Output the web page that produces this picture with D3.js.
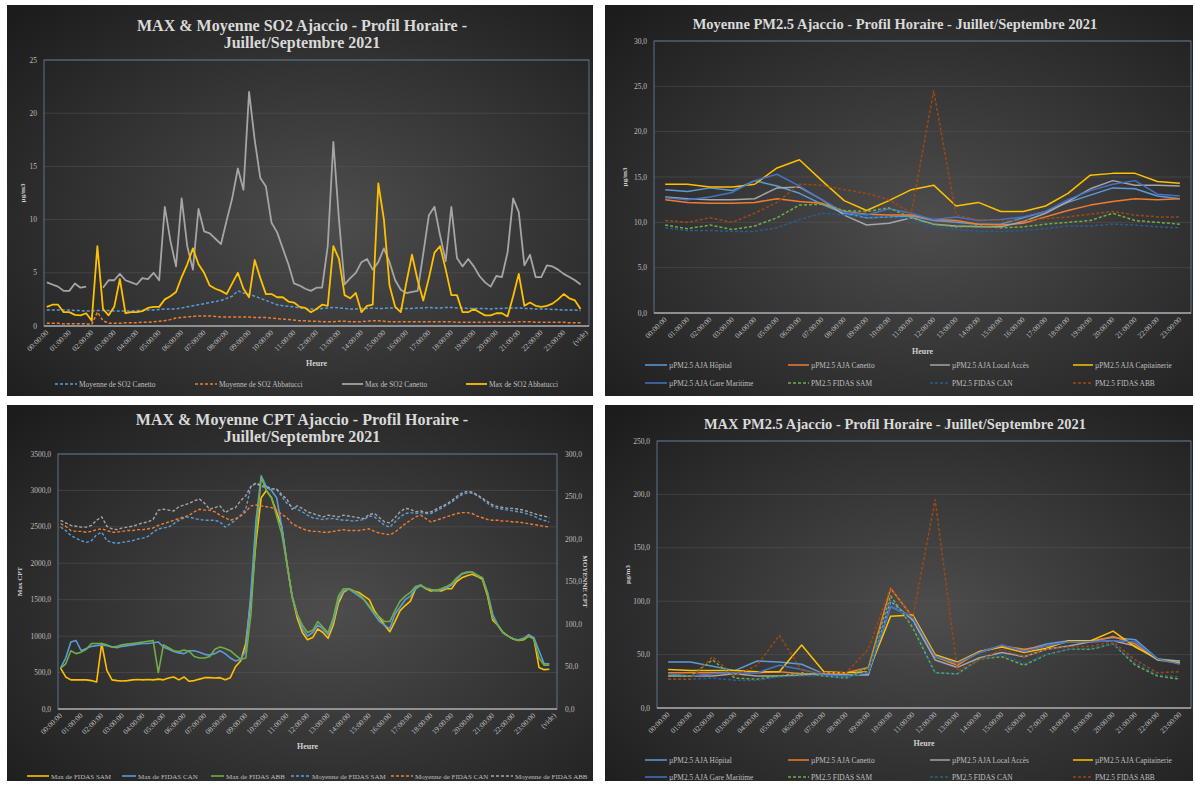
<!DOCTYPE html>
<html>
<head>
<meta charset="utf-8">
<script src="https://cdn.jsdelivr.net/npm/d3@7/dist/d3.min.js"></script>
<style>
  body { margin: 0; background: #fff; }
  svg { display: block; font-family: "Liberation Serif", "DejaVu Serif", serif; }
</style>
</head>
<body>
<svg id="chart" width="1195" height="785"></svg>
<script>
// ---------- data ----------
// quarter-hour charts: 96 points + the "(vide)" category, one label every 4
var hourLabelsVide = ["00:00:00","01:00:00","02:00:00","03:00:00","04:00:00","05:00:00","06:00:00","07:00:00",
  "08:00:00","09:00:00","10:00:00","11:00:00","12:00:00","13:00:00","14:00:00","15:00:00","16:00:00","17:00:00",
  "18:00:00","19:00:00","20:00:00","21:00:00","22:00:00","23:00:00","(vide)"];
var hourLabels = hourLabelsVide.slice(0, 24);

// SO2 (µg/m3)
var so2MoyCanetto = [1.5,1.5,1.5,1.5,1.5,1.45,1.45,1.4,1.4,1.45,1.45,1.45,1.4,1.4,1.4,1.4,1.45,1.45,1.5,1.5,
  1.55,1.6,1.6,1.6,1.7,1.8,1.9,2.0,2.1,2.2,2.3,2.4,2.6,2.8,3.3,3.1,3.0,2.8,2.6,2.4,
  2.2,2.0,1.9,1.85,1.8,1.7,1.65,1.6,1.6,1.65,1.7,1.75,1.7,1.65,1.6,1.6,1.65,1.65,1.7,1.65,
  1.65,1.7,1.7,1.65,1.65,1.65,1.7,1.7,1.75,1.7,1.7,1.75,1.75,1.7,1.7,1.65,1.65,1.65,1.65,1.6,
  1.65,1.65,1.7,1.7,1.7,1.65,1.65,1.6,1.6,1.6,1.55,1.55,1.5,1.5,1.5,1.45];
var so2MoyAbbatucci = [0.25,0.25,0.25,0.2,0.2,0.2,0.2,0.2,0.15,1.3,0.5,0.25,0.25,0.25,0.3,0.3,0.3,0.35,0.35,0.4,
  0.45,0.5,0.6,0.75,0.8,0.85,0.9,0.95,0.95,0.95,0.9,0.85,0.85,0.85,0.85,0.85,0.85,0.8,0.8,0.8,
  0.75,0.7,0.65,0.6,0.55,0.5,0.5,0.45,0.45,0.4,0.4,0.4,0.45,0.45,0.4,0.4,0.4,0.45,0.5,0.5,
  0.45,0.4,0.4,0.4,0.4,0.4,0.4,0.4,0.4,0.4,0.4,0.4,0.4,0.35,0.35,0.35,0.35,0.35,0.35,0.35,
  0.35,0.35,0.35,0.35,0.4,0.4,0.4,0.35,0.35,0.35,0.35,0.35,0.35,0.3,0.3,0.3];
var so2MaxCanetto = [4.1,3.9,3.7,3.3,3.3,4.0,3.6,3.7,null,null,3.6,4.3,4.3,4.9,4.3,4.1,3.9,4.5,4.4,5.0,
  4.3,11.2,8.0,5.6,12.0,7.5,5.3,11.0,8.9,8.7,8.2,7.7,9.9,12.0,14.8,12.8,22.0,17.5,13.9,13.1,
  9.7,8.8,7.3,5.8,4.0,3.8,3.5,3.3,3.6,3.6,7.5,17.3,10.0,3.9,4.5,5.0,6.0,6.3,5.3,6.0,
  7.3,6.0,4.3,3.4,3.1,3.2,3.3,6.8,10.4,11.2,8.5,6.1,11.2,6.4,5.6,6.3,5.6,4.7,4.1,3.7,
  4.7,4.6,6.9,12.0,10.7,5.7,6.7,4.6,4.6,5.7,5.6,5.3,4.9,4.6,4.3,3.9];
var so2MaxAbbatucci = [1.8,2.0,2.0,1.3,1.3,1.05,1.0,1.2,0.5,7.5,1.6,1.0,1.8,4.4,1.2,1.3,1.3,1.4,1.7,1.8,
  1.8,2.5,2.8,3.2,4.6,5.8,7.3,5.8,5.0,3.8,3.5,3.3,3.0,4.0,5.0,3.5,2.7,6.2,4.5,3.0,
  3.0,2.7,2.7,2.3,2.2,1.8,1.7,1.3,1.6,2.0,1.9,7.5,6.3,2.9,2.6,3.1,1.3,1.9,2.0,13.4,
  10.0,3.8,1.8,1.3,4.1,6.7,4.3,2.4,4.5,6.9,7.5,5.3,2.9,2.9,1.3,1.3,1.6,1.3,1.0,1.0,
  1.2,1.2,0.9,2.8,4.9,1.9,2.2,1.9,1.8,1.9,2.1,2.5,3.0,2.6,2.4,1.6];

// Moyenne PM2.5 (µg/m3), hourly
var pm25MoyHopital = [13.6,13.4,13.8,13.5,14.6,14.0,13.2,12.0,11.0,10.5,10.6,10.7,10.2,10.0,9.8,9.8,10.5,11.2,12.2,13.0,13.8,13.7,12.9,12.6];
var pm25MoyCanetto = [12.5,12.2,12.1,12.1,12.2,12.6,12.3,12.1,11.2,10.9,10.8,10.8,10.3,10.2,9.8,9.7,9.9,10.6,11.3,11.9,12.3,12.6,12.5,12.6];
var pm25MoyLocal = [12.8,12.6,12.5,12.5,12.6,13.8,13.9,12.5,10.8,9.7,9.9,10.5,9.8,9.6,9.5,9.5,10.1,11.0,12.3,13.7,14.6,14.1,14.1,14.0];
var pm25MoyCapitainerie = [14.2,14.2,13.9,13.9,14.2,16.0,16.9,14.6,12.4,11.3,12.4,13.6,14.1,11.8,12.2,11.2,11.2,11.8,13.2,15.2,15.4,15.4,14.5,14.3];
var pm25MoyGare = [12.7,12.5,12.8,13.3,14.6,15.3,14.0,12.5,11.1,10.8,11.5,11.0,10.3,10.6,10.2,10.3,10.6,11.2,12.5,13.5,14.2,14.6,13.1,12.9];
var pm25MoySam = [9.7,9.3,9.7,9.2,9.6,10.5,11.9,12.0,11.3,11.2,11.6,10.5,9.8,9.5,9.6,9.4,9.5,9.8,10.0,10.2,11.0,10.2,10.0,9.8];
var pm25MoyCan = [9.4,9.1,9.1,9.0,9.0,9.4,10.3,11.0,10.8,10.6,10.6,10.4,9.5,9.2,9.0,9.0,9.1,9.3,9.6,9.6,9.8,9.7,9.5,9.4];
var pm25MoyAbb = [10.2,10.0,10.5,10.0,11.0,12.2,14.2,14.1,13.6,13.2,12.5,11.0,24.5,10.8,10.3,10.2,10.2,10.4,10.6,10.9,11.2,10.8,10.6,10.6];

// CPT, quarter-hour (max on left axis, moyenne on right axis)
var cptMaxSam = [560,440,400,400,400,400,390,370,900,530,400,390,385,390,400,405,400,405,400,410,
  400,425,440,400,440,380,390,410,430,430,425,430,400,430,580,660,900,1500,2300,2900,
  3000,2900,2700,2500,2000,1550,1250,1050,950,980,1100,1050,970,1150,1450,1600,1650,1620,1600,1550,
  1500,1350,1250,1150,1060,1200,1350,1420,1480,1650,1700,1650,1620,1630,1620,1650,1650,1750,1800,1830,
  1850,1820,1780,1550,1220,1150,1050,1000,960,940,950,1000,970,570,540,545];
var cptMaxCan = [560,700,920,940,800,830,860,870,880,870,850,840,860,870,880,890,900,900,910,920,
  850,820,790,770,760,800,800,780,750,740,760,800,760,700,660,680,800,1600,2600,3200,
  3050,3000,2900,2500,2000,1550,1300,1100,1000,1050,1150,1100,1020,1200,1500,1620,1650,1600,1550,1500,
  1400,1300,1200,1150,1100,1300,1400,1500,1550,1650,1700,1650,1640,1620,1640,1660,1700,1780,1850,1870,
  1880,1830,1800,1600,1300,1150,1050,1000,960,950,970,1020,980,800,620,620];
var cptMaxAbb = [560,620,800,760,780,820,900,900,900,880,850,860,880,890,900,910,920,930,940,500,
  880,840,800,790,810,790,720,700,700,720,820,850,830,800,740,680,700,1300,2400,3180,
  3000,2900,2650,2400,2000,1550,1300,1150,1050,1080,1200,1120,1050,1250,1550,1650,1650,1620,1580,1500,
  1420,1320,1260,1200,1200,1350,1480,1550,1600,1680,1700,1660,1640,1630,1650,1680,1720,1800,1860,1880,
  1880,1840,1800,1580,1250,1150,1050,1000,960,940,960,1000,960,700,600,600];
var cptMoySam = [214,210,204,201,198,196,198,205,208,198,196,195,196,197,198,200,201,203,208,212,
  213,214,218,222,225,226,224,223,222,222,222,220,214,218,222,228,235,262,265,262,
  260,259,258,250,242,238,235,232,228,225,224,223,224,224,223,222,222,221,222,223,
  227,226,221,216,214,220,226,230,231,230,231,230,230,233,236,240,243,248,252,254,
  254,251,247,242,238,236,235,234,233,232,231,229,227,224,222,220];
var cptMoyCan = [218,215,210,209,209,208,209,211,212,210,208,208,209,210,210,211,211,212,213,216,
  218,220,222,224,226,228,232,235,234,234,232,228,225,222,224,227,232,239,240,239,
  238,237,234,229,225,218,215,212,210,209,209,208,208,209,210,211,210,210,210,211,
  212,209,207,206,205,208,213,218,222,226,228,224,220,222,224,226,228,230,231,231,
  230,227,225,223,222,222,221,221,220,220,219,218,217,216,215,214];
var cptMoyAbb = [222,219,216,215,214,214,216,222,226,215,212,211,213,214,215,217,219,220,223,234,
  235,234,233,238,240,242,245,247,242,235,237,239,231,235,237,245,251,262,266,263,
  262,259,259,252,247,235,239,236,232,230,228,226,228,227,226,228,227,226,225,224,
  229,230,225,220,219,225,232,236,235,232,233,231,232,235,238,241,245,250,254,256,
  255,252,248,244,240,238,237,236,236,235,234,232,230,228,227,225];

// MAX PM2.5 (µg/m3), hourly
var pm25MaxHopital = [43,43,39,35,44,43,41,32,31,32,95,85,48,42,52,58,54,60,63,63,66,64,46,44];
var pm25MaxCanetto = [33,33,33,33,33,34,32,32,33,38,112,85,48,40,53,58,55,58,62,62,67,60,45,42];
var pm25MaxLocal = [30,30,30,32,30,30,31,32,31,31,100,82,45,38,47,52,48,55,58,62,63,58,45,44];
var pm25MaxCapitainerie = [36,35,35,35,34,34,59,34,33,34,86,87,50,43,53,57,52,56,63,63,72,57,46,42];
var pm25MaxGare = [32,30,32,33,33,40,36,31,30,33,95,85,48,42,52,59,53,58,62,62,63,62,46,41];
var pm25MaxSam = [30,30,45,28,27,30,33,30,28,38,105,75,33,32,46,48,40,50,55,55,60,40,30,27];
var pm25MaxCan = [27,27,28,26,26,29,30,30,28,34,100,80,33,32,45,50,42,50,55,56,60,42,31,29];
var pm25MaxAbb = [27,27,48,30,40,68,35,33,33,55,113,85,195,35,45,55,48,55,57,58,62,45,33,34];

var pm25Names = ["µPM2.5 AJA Hôpital","µPM2.5 AJA Canetto","µPM2.5 AJA Local Accès","µPM2.5 AJA Capitainerie",
  "µPM2.5 AJA Gare Maritime","PM2.5 FIDAS SAM","PM2.5 FIDAS CAN","PM2.5 FIDAS ABB"];
var pm25Colors = ["#5b9bd5","#ed7d31","#a5a5a5","#ffc000","#4472c4","#70ad47","#255e91","#9e480e"];
var pm25Dashed = [false,false,false,false,false,true,true,true];

// ---------- drawing ----------
var svg = d3.select("#chart");
var defs = svg.append("defs");
var grad = defs.append("radialGradient").attr("id", "bg").attr("cx", "55%").attr("cy", "55%").attr("r", "75%");
grad.append("stop").attr("offset", "0%").attr("stop-color", "#4d4d4d");
grad.append("stop").attr("offset", "100%").attr("stop-color", "#1c1c1c");

var comma1 = function(v) { return d3.format(".1f")(v).replace(".", ","); };

function drawPanel(cfg) {
  var g = svg.append("g");
  g.append("rect")
    .attr("x", cfg.box[0]).attr("y", cfg.box[1])
    .attr("width", cfg.box[2] - cfg.box[0]).attr("height", cfg.box[3] - cfg.box[1])
    .attr("fill", "url(#bg)");

  var p = cfg.plot; // [left, top, right, bottom]
  var x = d3.scaleBand().domain(d3.range(cfg.nCat)).range([p[0], p[2]]);
  var cx = function(i) { return x(i) + x.bandwidth() / 2; };
  var y = d3.scaleLinear().domain(cfg.yDomain).range([p[3], p[1]]);
  var y2 = cfg.y2Domain ? d3.scaleLinear().domain(cfg.y2Domain).range([p[3], p[1]]) : null;

  // title
  cfg.title.forEach(function(t, k) {
    g.append("text").attr("x", cfg.titleX).attr("y", cfg.titleY + k * cfg.titleGap)
      .attr("text-anchor", "middle").attr("fill", "#d9d9d9")
      .attr("font-weight", "bold").attr("font-size", cfg.titleSize).attr("letter-spacing", cfg.titleSpacing || 0)
      .text(t);
  });

  // grid + plot frame
  var yTicks = d3.range(cfg.yDomain[0], cfg.yDomain[1] + 1e-9, cfg.yStep);
  g.selectAll(null).data(yTicks.slice(1)).enter().append("line")
    .attr("x1", p[0]).attr("x2", p[2]).attr("y1", function(d) { return y(d); }).attr("y2", function(d) { return y(d); })
    .attr("stroke", "#5a5a5a").attr("stroke-opacity", 0.6).attr("stroke-width", 0.8);
  g.append("rect").attr("x", p[0]).attr("y", p[1]).attr("width", p[2] - p[0]).attr("height", p[3] - p[1])
    .attr("fill", "none").attr("stroke", "#6a86a6").attr("stroke-opacity", 0.8).attr("stroke-width", 1);
  g.append("line").attr("x1", p[0]).attr("x2", p[2]).attr("y1", p[3]).attr("y2", p[3])
    .attr("stroke", "#a6a6a6").attr("stroke-width", 1.5);

  // y tick labels
  g.selectAll(null).data(yTicks).enter().append("text")
    .attr("x", p[0] - 7).attr("y", function(d) { return y(d) + 2.5; })
    .attr("text-anchor", "end").attr("fill", "#bfbfbf").attr("font-size", 7.5)
    .text(cfg.yFormat);
  if (y2) {
    var y2Ticks = d3.range(cfg.y2Domain[0], cfg.y2Domain[1] + 1e-9, cfg.y2Step);
    g.selectAll(null).data(y2Ticks).enter().append("text")
      .attr("x", p[2] + 8).attr("y", function(d) { return y2(d) + 2.5; })
      .attr("text-anchor", "start").attr("fill", "#bfbfbf").attr("font-size", 7.5)
      .text(cfg.y2Format);
  }

  // x tick labels, rotated
  cfg.xLabels.forEach(function(lab, k) {
    var xi = cx(k * cfg.labelEvery);
    g.append("text").attr("transform", "translate(" + (xi + 2) + "," + (p[3] + 7) + ") rotate(-45)")
      .attr("text-anchor", "end").attr("fill", "#bfbfbf").attr("font-size", 7.5).text(lab);
  });

  // axis titles
  g.append("text").attr("x", (p[0] + p[2]) / 2).attr("y", cfg.heureY).attr("text-anchor", "middle")
    .attr("fill", "#d0d0d0").attr("font-weight", "bold").attr("font-size", 8).text("Heure");
  g.append("text").attr("transform", "translate(" + cfg.yTitleX + "," + ((p[1] + p[3]) / 2) + ") rotate(-90)")
    .attr("text-anchor", "middle").attr("fill", "#d0d0d0").attr("font-weight", "bold").attr("font-size", 7)
    .text(cfg.yTitle);
  if (y2) {
    g.append("text").attr("transform", "translate(" + cfg.y2TitleX + "," + ((p[1] + p[3]) / 2) + ") rotate(90)")
      .attr("text-anchor", "middle").attr("fill", "#d0d0d0").attr("font-weight", "bold").attr("font-size", 7)
      .text(cfg.y2Title);
  }

  // series
  cfg.series.forEach(function(s) {
    var sc = s.right ? y2 : y;
    var line = d3.line()
      .defined(function(d) { return d != null; })
      .x(function(d, i) { return cx(i); })
      .y(function(d) { return sc(d); });
    g.append("path").datum(s.values).attr("d", line)
      .attr("fill", "none").attr("stroke", s.color).attr("stroke-width", s.width)
      .attr("stroke-linejoin", "round")
      .attr("stroke-dasharray", s.dashed ? "3,2" : null);
  });

  // legend
  cfg.legend.forEach(function(it) {
    var s = cfg.series[it.idx];
    g.append("line").attr("x1", it.x).attr("x2", it.x + it.len).attr("y1", it.y).attr("y2", it.y)
      .attr("stroke", s.color).attr("stroke-width", s.width).attr("stroke-dasharray", s.dashed ? "3,2" : null);
    g.append("text").attr("x", it.x + it.len + 2).attr("y", it.y + 2.5).attr("fill", "#bfbfbf")
      .attr("font-size", cfg.legendSize).text(s.name);
  });
}

// Panel 1 : SO2
drawPanel({
  box: [7, 5, 593, 396],
  plot: [44, 60, 589, 326],
  nCat: 97, labelEvery: 4, xLabels: hourLabelsVide,
  yDomain: [0, 25], yStep: 5, yFormat: d3.format("d"),
  title: ["MAX & Moyenne SO2 Ajaccio - Profil Horaire -", "Juillet/Septembre 2021"],
  titleX: 302, titleY: 31, titleGap: 17, titleSize: 16,
  heureY: 366, yTitle: "µg/m3", yTitleX: 25,
  legendSize: 7.4,
  series: [
    { name: "Moyenne de SO2 Canetto", values: so2MoyCanetto, color: "#5b9bd5", width: 1.5, dashed: true },
    { name: "Moyenne de SO2 Abbatucci", values: so2MoyAbbatucci, color: "#ed7d31", width: 1.5, dashed: true },
    { name: "Max de SO2 Canetto", values: so2MaxCanetto, color: "#a5a5a5", width: 1.8 },
    { name: "Max de SO2 Abbatucci", values: so2MaxAbbatucci, color: "#ffc000", width: 1.8 }
  ],
  legend: [
    { idx: 0, x: 55, y: 384, len: 22 }, { idx: 1, x: 195, y: 384, len: 22 },
    { idx: 2, x: 342, y: 384, len: 21 }, { idx: 3, x: 466, y: 384, len: 21 }
  ]
});

// Panel 2 : Moyenne PM2.5
var pm25MoySeries = [pm25MoyHopital, pm25MoyCanetto, pm25MoyLocal, pm25MoyCapitainerie,
  pm25MoyGare, pm25MoySam, pm25MoyCan, pm25MoyAbb];
drawPanel({
  box: [605, 5, 1193, 396],
  plot: [654, 41, 1191, 313],
  nCat: 24, labelEvery: 1, xLabels: hourLabels,
  yDomain: [0, 30], yStep: 5, yFormat: comma1,
  title: ["Moyenne PM2.5 Ajaccio - Profil Horaire - Juillet/Septembre 2021"],
  titleX: 895, titleY: 29, titleGap: 0, titleSize: 14.5,
  heureY: 354, yTitle: "µg/m3", yTitleX: 627,
  legendSize: 7.4,
  series: pm25MoySeries.map(function(v, k) {
    return { name: pm25Names[k], values: v, color: pm25Colors[k], width: 1.5, dashed: pm25Dashed[k] };
  }),
  legend: [
    { idx: 0, x: 645, y: 365, len: 22 }, { idx: 1, x: 788, y: 365, len: 21 },
    { idx: 2, x: 930, y: 365, len: 20 }, { idx: 3, x: 1073, y: 365, len: 20 },
    { idx: 4, x: 645, y: 383, len: 22 }, { idx: 5, x: 788, y: 383, len: 21 },
    { idx: 6, x: 930, y: 383, len: 20 }, { idx: 7, x: 1073, y: 383, len: 20 }
  ]
});

// Panel 3 : CPT
drawPanel({
  box: [7, 405, 593, 781],
  plot: [58, 454, 557, 709],
  nCat: 97, labelEvery: 4, xLabels: hourLabelsVide,
  yDomain: [0, 3500], yStep: 500, yFormat: comma1,
  y2Domain: [0, 300], y2Step: 50, y2Format: comma1,
  title: ["MAX & Moyenne CPT Ajaccio - Profil Horaire -", "Juillet/Septembre 2021"],
  titleX: 302, titleY: 425, titleGap: 17, titleSize: 16,
  heureY: 749, yTitle: "Max CPT", yTitleX: 22, y2Title: "MOYENNE CPT", y2TitleX: 583,
  legendSize: 7,
  series: [
    { name: "Max de FIDAS SAM", values: cptMaxSam, color: "#ffc000", width: 1.6 },
    { name: "Max de FIDAS CAN", values: cptMaxCan, color: "#5b9bd5", width: 1.6 },
    { name: "Max de FIDAS ABB", values: cptMaxAbb, color: "#70ad47", width: 1.6 },
    { name: "Moyenne de FIDAS SAM", values: cptMoySam, color: "#5b9bd5", width: 1.4, dashed: true, right: true },
    { name: "Moyenne de FIDAS CAN", values: cptMoyCan, color: "#ed7d31", width: 1.4, dashed: true, right: true },
    { name: "Moyenne de FIDAS ABB", values: cptMoyAbb, color: "#a5a5a5", width: 1.4, dashed: true, right: true }
  ],
  legend: [
    { idx: 0, x: 27, y: 776, len: 22 }, { idx: 1, x: 122, y: 776, len: 14 },
    { idx: 2, x: 211, y: 776, len: 13 }, { idx: 3, x: 291, y: 776, len: 19 },
    { idx: 4, x: 391, y: 776, len: 22 }, { idx: 5, x: 491, y: 776, len: 22 }
  ]
});

// Panel 4 : MAX PM2.5
var pm25MaxSeries = [pm25MaxHopital, pm25MaxCanetto, pm25MaxLocal, pm25MaxCapitainerie,
  pm25MaxGare, pm25MaxSam, pm25MaxCan, pm25MaxAbb];
drawPanel({
  box: [605, 405, 1193, 781],
  plot: [657, 441, 1191, 708],
  nCat: 24, labelEvery: 1, xLabels: hourLabels,
  yDomain: [0, 250], yStep: 50, yFormat: comma1,
  title: ["MAX PM2.5 Ajaccio - Profil Horaire - Juillet/Septembre 2021"],
  titleX: 895, titleY: 429, titleGap: 0, titleSize: 14.5,
  heureY: 746, yTitle: "µg/m3", yTitleX: 630,
  legendSize: 7.4,
  series: pm25MaxSeries.map(function(v, k) {
    return { name: pm25Names[k], values: v, color: pm25Colors[k], width: 1.5, dashed: pm25Dashed[k] };
  }),
  legend: [
    { idx: 0, x: 645, y: 760, len: 22 }, { idx: 1, x: 788, y: 760, len: 21 },
    { idx: 2, x: 930, y: 760, len: 20 }, { idx: 3, x: 1073, y: 760, len: 20 },
    { idx: 4, x: 645, y: 777, len: 22 }, { idx: 5, x: 788, y: 777, len: 21 },
    { idx: 6, x: 930, y: 777, len: 20 }, { idx: 7, x: 1073, y: 777, len: 20 }
  ]
});
</script>
</body>
</html>
